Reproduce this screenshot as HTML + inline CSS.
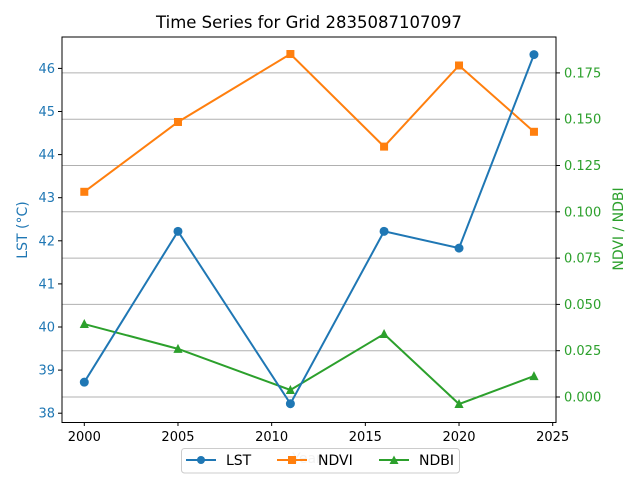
<!DOCTYPE html>
<html><head><meta charset="utf-8"><style>
body{margin:0;background:#fff;}
svg{display:block;font-family:"DejaVu Sans","Liberation Sans",sans-serif;}
</style></head><body>
<svg id="chart" width="640" height="480" viewBox="0 0 640 480">
<text x="309" y="28" font-size="16.5" text-anchor="middle">Time Series for Grid 2835087107097</text>
<g id="grid"></g>
<g id="series"></g>
<rect x="62" y="37" width="494" height="385.5" fill="none" stroke="#000" stroke-width="1"/>
<g id="xaxis"></g><g id="yleft"></g><g id="yright"></g>
<text x="307" y="463" font-size="14" fill="#bbb" text-anchor="middle">Year</text>
<text transform="translate(27,230) rotate(-90)" font-size="14" fill="#1f77b4" text-anchor="middle">LST (°C)</text>
<text transform="translate(623,229) rotate(-90)" font-size="14" fill="#2ca02c" text-anchor="middle">NDVI / NDBI</text>
<g>
<rect x="181.5" y="448.5" width="278" height="24.5" rx="3" fill="#fff" fill-opacity="0.8" stroke="#ccc"/>
<g><line x1="186" y1="460" x2="216" y2="460" stroke="#1f77b4" stroke-width="2"/><circle cx="201" cy="460" r="4" fill="#1f77b4"/><text x="226" y="465" font-size="14">LST</text></g>
<g><line x1="277" y1="460" x2="307" y2="460" stroke="#ff7f0e" stroke-width="2"/><rect x="288" y="456" width="8" height="8" fill="#ff7f0e"/><text x="318" y="465" font-size="14">NDVI</text></g>
<g><line x1="379" y1="460" x2="409" y2="460" stroke="#2ca02c" stroke-width="2"/><polygon points="394,455.5 398.5,464 389.5,464" fill="#2ca02c"/><text x="419" y="465" font-size="14">NDBI</text></g>
</g>
</svg>
<script>
const years=[2000,2005,2011,2016,2020,2024];
const lst=[38.72,42.22,38.22,42.22,41.83,46.32];
const ndvi=[0.1108,0.1485,0.1852,0.1352,0.1790,0.1432];
const ndbi=[0.0394,0.0260,0.0038,0.0340,-0.0038,0.0113];
const xTicks=[2000,2005,2010,2015,2020,2025];
const yLeftTicks=[38,39,40,41,42,43,44,45,46];
const yRightTicks=[0,0.025,0.05,0.075,0.1,0.125,0.15,0.175];
const yRightLabels=["0.000","0.025","0.050","0.075","0.100","0.125","0.150","0.175"];
const NS="http://www.w3.org/2000/svg";
const x=v=>84.3+(v-2000)*18.736;
const yL=v=>413.2-(v-38)*43.1;
const yR=v=>397-v*1852;
function mk(t,a,p){const e=document.createElementNS(NS,t);for(const k in a)e.setAttribute(k,a[k]);p.appendChild(e);return e;}
const grid=document.getElementById('grid'),xa=document.getElementById('xaxis'),yl=document.getElementById('yleft'),yr=document.getElementById('yright'),ser=document.getElementById('series');
xTicks.forEach(t=>{const g=mk('g',{},xa);


mk('line',{x1:x(t),x2:x(t),y1:422.5,y2:426,stroke:'#000'},g);const tx=mk('text',{x:x(t),y:441,'font-size':13,'text-anchor':'middle'},g);tx.textContent=t;});
yLeftTicks.forEach(t=>{const g=mk('g',{},yl);


mk('line',{x1:58,x2:62,y1:yL(t),y2:yL(t),stroke:'#000'},g);const tx=mk('text',{x:55,y:yL(t)+4.5,'font-size':13,'text-anchor':'end',fill:'#1f77b4'},g);tx.textContent=t;});
yRightTicks.forEach((t,i)=>{const gl=mk('line',{x1:62,x2:556,y1:yR(t),y2:yR(t),stroke:'#b0b0b0','stroke-width':1},grid);


const g=mk('g',{},yr);


mk('line',{x1:556,x2:560,y1:yR(t),y2:yR(t),stroke:'#000'},g);const tx=mk('text',{x:564,y:yR(t)+4.5,'font-size':13,fill:'#2ca02c'},g);tx.textContent=yRightLabels[i];});
function line(vals,yf,color,name,marker){const g=mk('g',{},ser);


mk('polyline',{points:vals.map((v,i)=>x(years[i])+','+yf(v)).join(' '),fill:'none',stroke:color,'stroke-width':2},g);
vals.forEach((v,i)=>{const cx=x(years[i]),cy=yf(v);let m;
if(marker==='o')m=mk('circle',{cx,cy,r:4.5,fill:color},g);
else if(marker==='s')m=mk('rect',{x:cx-4,y:cy-4,width:8,height:8,fill:color},g);
else m=mk('polygon',{points:`${cx},${cy-5} ${cx+4.6},${cy+4} ${cx-4.6},${cy+4}`,fill:color},g);

});}
line(ndvi,yR,'#ff7f0e','ndvi','s');
line(ndbi,yR,'#2ca02c','ndbi','^');
line(lst,yL,'#1f77b4','lst','o');
</script>
</body></html>
